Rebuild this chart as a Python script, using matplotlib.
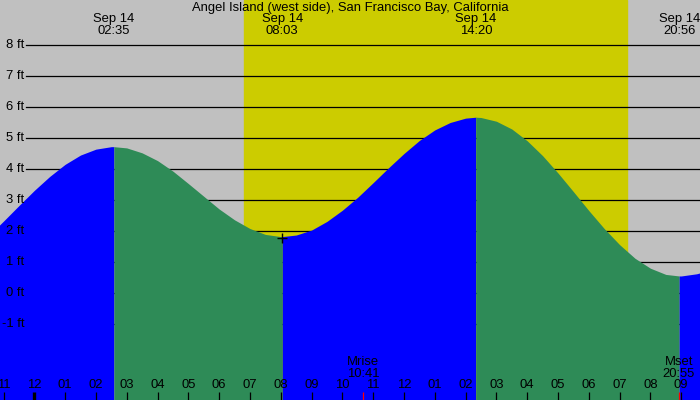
import numpy as np
from matplotlib import pyplot as plt

# tide curve: hours since midnight Sep 14, height in ft
hours = [-1.5, -1.0, -0.5, 0.0, 0.5, 1.0, 1.5, 2.0, 2.5, 2.583,
         3.0, 3.5, 4.0, 4.5, 5.0, 5.5, 6.0, 6.5, 7.0, 7.5, 8.0, 8.05,
         8.5, 9.0, 9.5, 10.0, 10.5, 11.0, 11.5, 12.0, 12.5, 13.0, 13.5, 14.0, 14.333,
         14.5, 15.0, 15.5, 16.0, 16.5, 17.0, 17.5, 18.0, 18.5, 19.0, 19.5, 20.0, 20.5, 20.933,
         21.0, 21.5, 22.0]
height = [1.83, 2.32, 2.82, 3.31, 3.76, 4.15, 4.45, 4.64, 4.72, 4.72,
          4.68, 4.52, 4.27, 3.93, 3.53, 3.12, 2.71, 2.36, 2.08, 1.89, 1.82, 1.82,
          1.87, 2.03, 2.31, 2.67, 3.09, 3.56, 4.04, 4.50, 4.92, 5.26, 5.50, 5.64, 5.67,
          5.66, 5.54, 5.29, 4.91, 4.43, 3.87, 3.27, 2.66, 2.08, 1.56, 1.12, 0.80, 0.60, 0.55,
          0.55, 0.62, 0.75]

# high / low tides
event_hours = [2.583, 8.05, 14.333, 20.933]
event_labels = ["02:35", "08:03", "14:20", "20:56"]
event_date = "Sep 14"

sunrise = 6.81
sunset = 19.24

moon_hours = [10.683, 20.917]
moon_labels = ["Mrise\n10:41", "Mset\n20:55"]

ft_levels = list(range(-1, 9))
hour_ticks = list(range(-1, 22))

title = "Angel Island (west side), San Francisco Bay, California"

gray = "#c0c0c0"
yellow = "#cccc00"
rising = "#0000ff"
falling = "#2e8b57"
fs = 9.4
font = "Liberation Sans"

fig = plt.figure(figsize=(7, 4), dpi=100)
ax = fig.add_axes([0, 0, 1, 1])
ax.set_xlim(-1.114, 21.61)
ax.set_ylim(-3.45, 9.45)
ax.axis("off")
fig.patch.set_facecolor(gray)

ax.axvspan(sunrise, sunset, color=yellow, zorder=0)

for lev in ft_levels:
    ax.axhline(lev, xmin=26 / 700, xmax=1, color="black", lw=0.9, zorder=1)
    ax.text(-1.114 + 24 / 30.8, lev, f"{lev} ft", ha="right", va="center",
            fontsize=fs, family=font, zorder=5)

t = np.array(hours)
h = np.array(height)
bounds = [t[0]] + event_hours + [t[-1]]
for i in range(len(bounds) - 1):
    m = (t >= bounds[i]) & (t <= bounds[i + 1])
    col = rising if i % 2 == 0 else falling
    ax.fill_between(t[m], -3.45, h[m], color=col, lw=0, zorder=2)

# small cross at the morning low
ax.plot(event_hours[1], height[hours.index(8.05)] - 0.05, marker="+", color="black",
        ms=7, mew=1, zorder=4)

tr = ax.get_xaxis_transform()
for eh, el in zip(event_hours, event_labels):
    ax.text(eh, 1 - 19 / 400, event_date, ha="center", va="center",
            transform=tr, fontsize=fs, family=font)
    ax.text(eh, 1 - 31 / 400, el, ha="center", va="center",
            transform=tr, fontsize=fs, family=font)

ax.text(0.5, 1 - 7.5 / 400, title, ha="center", va="center", transform=ax.transAxes,
        fontsize=fs, family=font)

for hr in hour_ticks:
    lab = f"{(hr - 1) % 12 + 1:02d}"
    ax.text(hr, 1 - 385.5 / 400, lab, ha="center", va="center", transform=tr,
            fontsize=fs, family=font, zorder=5)
    lw = 2.4 if hr == 0 else 0.9
    ax.plot([hr, hr], [0, 8 / 400], color="black", lw=lw, transform=tr,
            solid_capstyle="butt", zorder=5)

for mh, ml in zip(moon_hours, moon_labels):
    ax.plot([mh, mh], [0, 8 / 400], color="red", lw=0.9, transform=tr,
            solid_capstyle="butt", zorder=5)
    ax.text(mh, 1 - 368 / 400, ml, ha="center", va="center", transform=tr,
            fontsize=fs, family=font, linespacing=1.0, zorder=5)

fig.savefig("out.png", dpi=100, facecolor=gray)
